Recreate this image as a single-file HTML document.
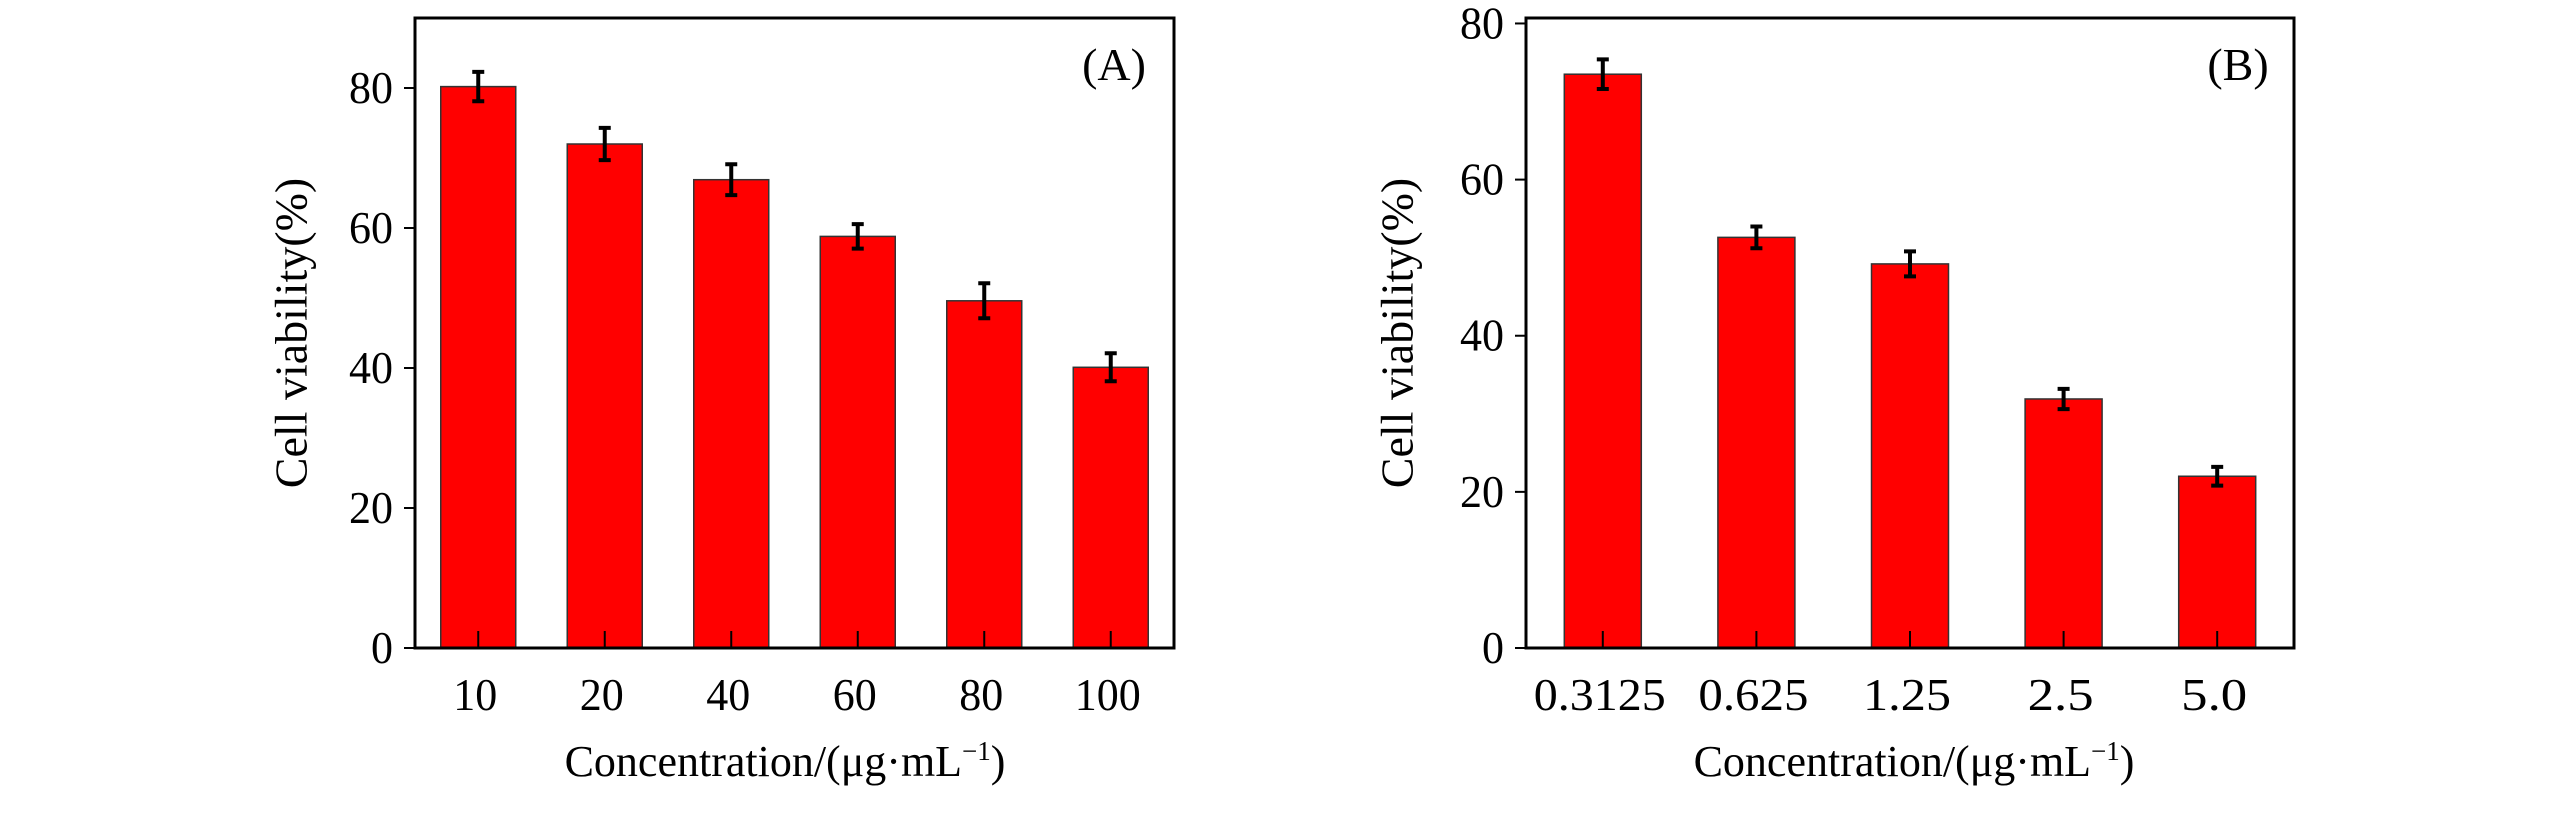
<!DOCTYPE html>
<html><head><meta charset="utf-8"><style>
html,body{margin:0;padding:0;background:#fff;}
svg{display:block;font-family:"Liberation Serif","Times New Roman",serif;}
</style></head><body>
<svg id="chart" width="2567" height="820" viewBox="0 0 2567 820" xmlns="http://www.w3.org/2000/svg"></svg>
<script>
const catsA = ["10","20","40","60","80","100"];
const valsA = [80.2,72.0,66.9,58.8,49.6,40.1];
const errsA = [2.1,2.3,2.2,1.75,2.5,2.0];
const ticksA = [0,20,40,60,80];
const catsB = ["0.3125","0.625","1.25","2.5","5.0"];
const valsB = [73.5,52.6,49.2,31.9,22.0];
const errsB = [1.9,1.4,1.6,1.3,1.2];
const ticksB = [0,20,40,60,80];

const NS="http://www.w3.org/2000/svg";
const svg=document.getElementById('chart');
function mk(tag,attrs,parent){const e=document.createElementNS(NS,tag);for(const k in attrs)e.setAttribute(k,attrs[k]);(parent||svg).appendChild(e);return e;}

function panel(p){
  const g=mk('g',{});
  
  
  const y=v=>p.bottom-(v/p.yMax)*(p.bottom-p.top);
  const band=(p.right-p.left)/p.cats.length;
  const x=i=>p.left+band*(i+0.5);
  p.vals.forEach((v,i)=>{
    const r=mk('rect',{x:x(i)-p.bw/2,y:y(v),width:p.bw,height:p.bottom-y(v),fill:'#ff0000',stroke:'#333','stroke-width':1.5},g);
    
    
    const e=p.errs[i];
    const eb=mk('path',{d:`M${x(i)} ${y(v+e)}V${y(v-e)}M${x(i)-6} ${y(v+e)}H${x(i)+6}M${x(i)-6} ${y(v-e)}H${x(i)+6}`,stroke:'#000','stroke-width':4,fill:'none'},g);
    
    
    mk('line',{x1:x(i),x2:x(i),y1:p.bottom,y2:p.bottom-17,stroke:'#000','stroke-width':2},g);
    const t=mk('text',{x:x(i)-3,y:p.bottom+62,'text-anchor':'middle','font-size':46,'textLength':p.cats[i].length*22,'lengthAdjust':'spacingAndGlyphs'},g);
    t.textContent=p.cats[i];
    
    
  });
  p.ticks.forEach(tv=>{
    mk('line',{x1:p.left-11,x2:p.left,y1:y(tv),y2:y(tv),stroke:'#000','stroke-width':2},g);
    const t=mk('text',{x:p.left-22,y:y(tv)+15,'text-anchor':'end','font-size':46,'textLength':String(tv).length*22,'lengthAdjust':'spacingAndGlyphs'},g);
    t.textContent=tv;
    
    
  });
  const box=mk('rect',{x:p.left,y:p.top,width:p.right-p.left,height:p.bottom-p.top,fill:'none',stroke:'#000','stroke-width':3},g);
  
  
  const yt=mk('text',{x:0,y:0,transform:`translate(${p.ytx},${(p.top+p.bottom)/2}) rotate(-90)`,'text-anchor':'middle','dominant-baseline':'middle','font-size':46},g);
  yt.textContent='Cell viability(%)';
  
  
  const xt=mk('text',{x:p.xtx,y:776,'text-anchor':'middle','font-size':44},g);
  xt.innerHTML='Concentration/(μg·mL<tspan dy="-16" font-size="27">−1</tspan><tspan dy="16">)</tspan>';
  
  
  const lb=mk('text',{x:p.lx,y:80,'text-anchor':'middle','font-size':46},g);
  lb.textContent='('+p.id+')';
  
  
}
panel({id:'A',cats:catsA,vals:valsA,errs:errsA,ticks:ticksA,left:415,right:1174,top:18,bottom:648,yMax:90,bw:75,ytx:296,xtx:785,lx:1114});
panel({id:'B',cats:catsB,vals:valsB,errs:errsB,ticks:ticksB,left:1526,right:2294,top:18,bottom:648,yMax:80.7,bw:77,ytx:1402,xtx:1914,lx:2238});
</script>
</body></html>
